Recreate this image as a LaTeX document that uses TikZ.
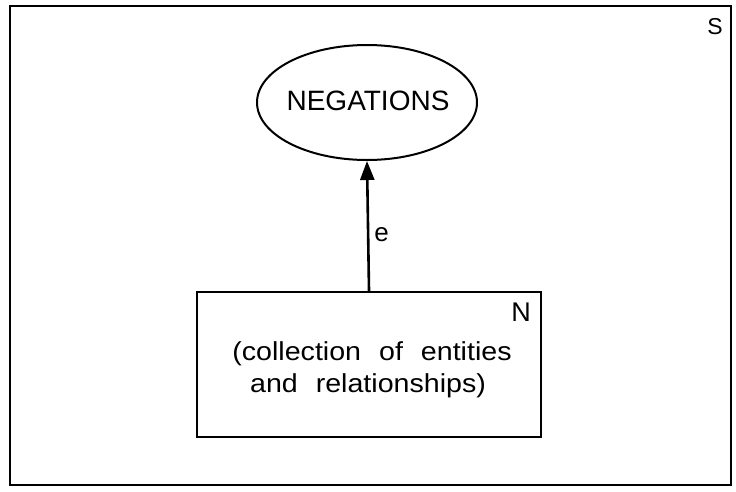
\documentclass[tikz,border=0pt]{standalone}
\usepackage{fontspec}
\setmainfont{Liberation Sans}
\newfontfamily\widefont[FakeStretch=1.1]{Liberation Sans}
\usetikzlibrary{shapes.geometric,arrows.meta}
\begin{document}
\begin{tikzpicture}[x=1pt,y=-1pt,
  frame/.style={draw,line width=2.8pt},
  lbl/.style={inner sep=0pt}]
\useasboundingbox (0,0) rectangle (736,491);
\draw[frame] (10,6) rectangle (731,485);
\node[lbl,font=\fontsize{23}{26}\selectfont] (S) at (715,27) {S};
\node[draw,ellipse,line width=2pt,minimum width=220pt,minimum height=115pt,inner sep=0pt] (neg) at (367,102.5) {};
\node[lbl,font=\fontsize{28}{30}\selectfont] (negtxt) at (368,101) {NEGATIONS};
\node[draw,line width=2.4pt,minimum width=344pt,minimum height=145pt,inner sep=0pt] (box) at (369,364.5) {};
\node[lbl,font=\fontsize{27}{30}\selectfont] (N) at (521,312) {N};
\node[lbl,font=\widefont\fontsize{26}{30}\selectfont,anchor=base] (line1) at (372,360) {(collection\hspace{18pt}of\hspace{18pt}entities};
\node[lbl,font=\widefont\fontsize{26}{30}\selectfont,anchor=base] (line2) at (368,392) {and\hspace{18pt}relationships)};
\draw[line width=2.6pt,-{Triangle[length=19pt,width=14pt]}] (box.north) -- (neg.south) node[pos=0.43,right=5pt,lbl,font=\fontsize{26}{28}\selectfont] (e) {e};
\end{tikzpicture}
\end{document}
